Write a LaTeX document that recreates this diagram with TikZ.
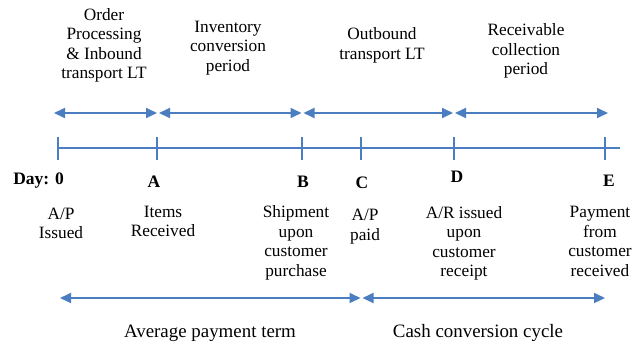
\documentclass[tikz,border=0pt]{standalone}
\usepackage{fontspec}
\setmainfont{Liberation Serif}
\usetikzlibrary{arrows.meta}
\definecolor{lineblue}{RGB}{74,126,193}
\tikzset{
  span/.style={line width=1.8pt, color=lineblue, {Triangle[length=11pt,width=10pt]}-{Triangle[length=11pt,width=10pt]}, shorten <=1pt, shorten >=1pt},
  tick/.style={line width=1.3pt, color=lineblue},
  lbl/.style={align=center, inner sep=0pt, font=\fontsize{17.3}{19.5}\selectfont},
  daylbl/.style={inner sep=0pt, font=\bfseries\fontsize{17.5}{19.5}\selectfont},
  termlbl/.style={inner sep=0pt, font=\fontsize{18.9}{21}\selectfont}
}

\begin{document}
\begin{tikzpicture}[x=1pt, y=-1pt]
	\useasboundingbox (0,0) rectangle (642,345);
	%%%%% START %%%%%
	
	% day ticks on the time line
	\coordinate (t0) at (58,148);
	\coordinate (tA) at (157,148);
	\coordinate (tB) at (302,148);
	\coordinate (tC) at (361,148);
	\coordinate (tD) at (454,148);
	\coordinate (tE) at (605,148);
	\coordinate (tEnd) at (620,148);
	
	\draw[tick] (t0) -- (tEnd);
	\foreach \t in {t0,tA,tB,tC,tD,tE}
		\draw[tick] ([yshift=11pt]\t) -- ([yshift=-12pt]\t);
	
	% period spans above the line
	\coordinate (p0) at (53,113);
	\coordinate (pA) at (158,113);
	\coordinate (pB) at (302.5,113);
	\coordinate (pD) at (454,113);
	\coordinate (pE) at (609,113);
	
	\draw[span] (p0) -- (pA);
	\draw[span] (pA) -- (pB);
	\draw[span] (pB) -- (pD);
	\draw[span] (pD) -- (pE);
	
	\node[lbl] (order) at (104,45.5) {Order\\Processing\\\& Inbound\\transport LT};
	\node[lbl] (inventory) at (228,48) {Inventory\\conversion\\period};
	\node[lbl] (outbound) at (382,45.5) {Outbound\\transport LT};
	\node[lbl] (receivable) at (526,51) {Receivable\\collection\\period};
	
	% day letters
	\node[daylbl, anchor=east] (day0) at (64,181) {Day: 0};
	\node[daylbl] (dayA) at (154,182) {A};
	\node[daylbl] (dayB) at (303,182) {B};
	\node[daylbl] (dayC) at (362,183) {C};
	\node[daylbl] (dayD) at (457,177) {D};
	\node[daylbl] (dayE) at (609,181) {E};
	
	% events
	\node[lbl] (apIssued) at (61,223.5) {A/P\\Issued};
	\node[lbl] (itemsRcvd) at (163,221.5) {Items\\Received};
	\node[lbl] (shipment) at (296,243) {Shipment\\upon\\customer\\purchase};
	\node[lbl] (apPaid) at (365,226.5) {A/P\\paid};
	\node[lbl] (arIssued) at (464,243.5) {A/R issued\\upon\\customer\\receipt};
	\node[lbl] (payment) at (600,241.5) {Payment\\from\\customer\\received};
	
	% terms below
	\coordinate (q0) at (59,298);
	\coordinate (qC) at (361.5,298);
	\coordinate (qE) at (606,298);
	
	\draw[span] (q0) -- (qC);
	\draw[span] (qC) -- (qE);
	
	\node[termlbl] (payTerm) at (210,333) {Average payment term};
	\node[termlbl] (cashCycle) at (478,333) {Cash conversion cycle};
	
	%%%%% END %%%%%
\end{tikzpicture}
\end{document}
